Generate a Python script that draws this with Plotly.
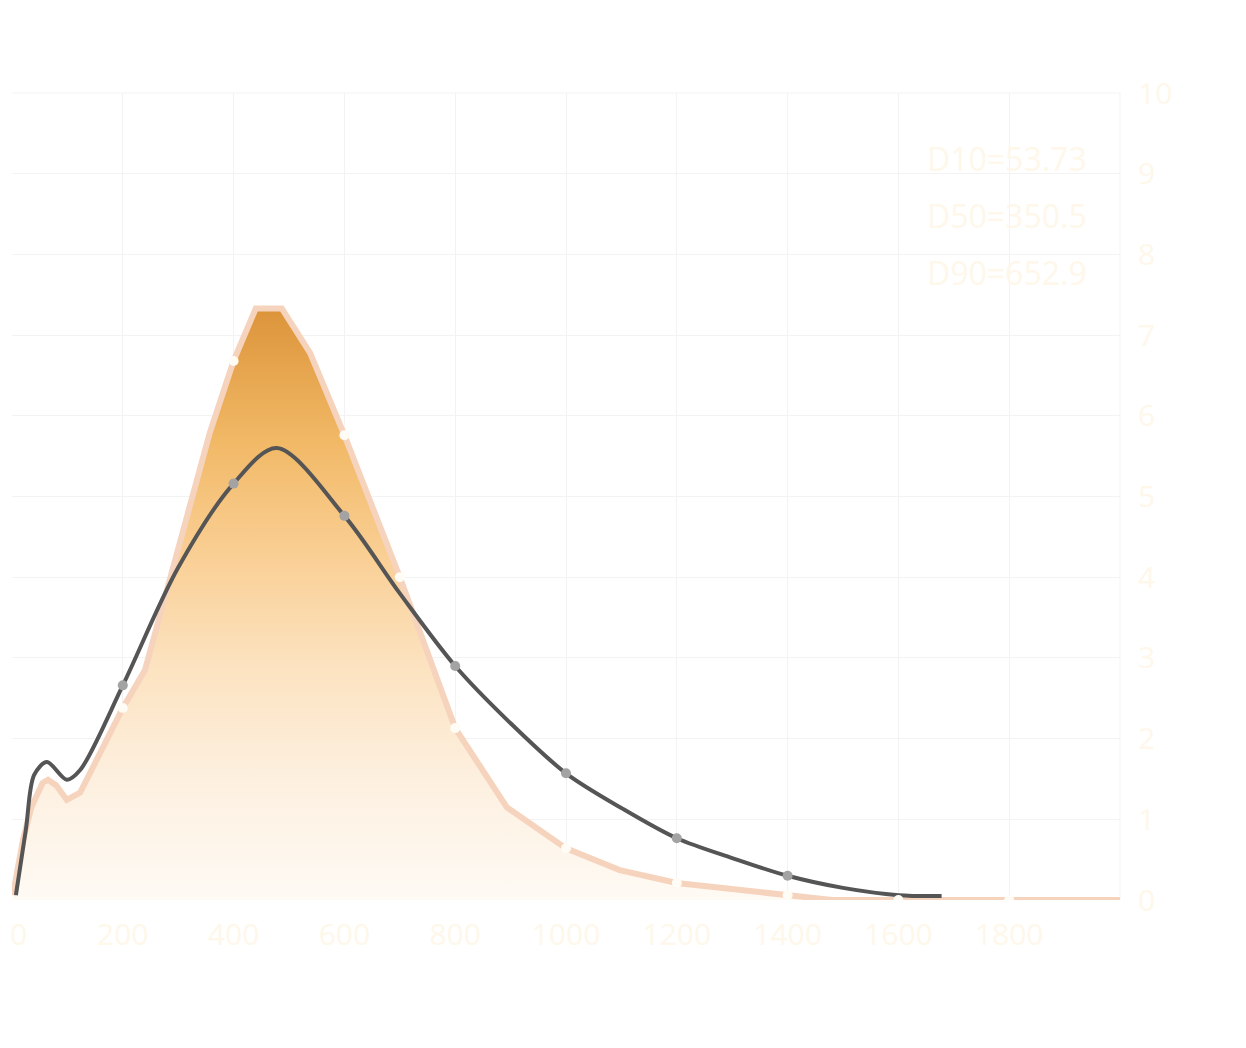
import plotly.graph_objects as go

# ---- data ----
size_x = [0, 20, 35, 45, 55, 65, 80, 99, 123, 200, 240, 288, 357, 400, 440, 487, 538,
          600, 700, 800, 893, 1000, 1097, 1200, 1400, 1480, 1600, 1800, 2000]
size_y = [0, 0.75, 1.15, 1.32, 1.45, 1.49, 1.42, 1.24, 1.33, 2.38, 2.85, 4.05, 5.79, 6.68,
          7.33, 7.33, 6.78, 5.76, 4.0, 2.13, 1.15, 0.64, 0.37, 0.21, 0.06, 0.0, 0.0, 0.0, 0.0]
size_marked = [0, 200, 400, 600, 700, 800, 1000, 1200, 1400, 1600, 1800]

curve_x = [7, 25, 40, 63, 99, 123, 200, 300, 400, 478, 600,
           700, 800, 900, 1000, 1100, 1200, 1300, 1400, 1500, 1600, 1678]
curve_y = [0.06, 0.87, 1.55, 1.71, 1.49, 1.61, 2.66, 4.12, 5.16, 5.6, 4.76,
           3.8, 2.9, 2.19, 1.57, 1.14, 0.765, 0.52, 0.30, 0.15, 0.06, 0.05]
curve_marked = [200, 400, 600, 800, 1000, 1200, 1400]

x_ticks = [0, 200, 400, 600, 800, 1000, 1200, 1400, 1600, 1800]
y_ticks = [0, 1, 2, 3, 4, 5, 6, 7, 8, 9, 10]
stats_labels = ["D10=53.73", "D50=350.5", "D90=652.9"]

PALE = "#fef7ea"
GRID = "#f3f3f3"
TICKFONT = dict(family="Open Sans", size=30, color=PALE)

fig = go.Figure()

fig.add_trace(go.Scatter(
    x=size_x, y=size_y, mode="lines",
    line=dict(color="#f6d3bd", width=6, shape="linear"),
    fill="tozeroy",
    fillgradient=dict(
        type="vertical", start=0, stop=max(size_y),
        colorscale=[[0.0, "#fefaf4"], [0.2, "#fdf0e0"], [0.4, "#fce2bf"],
                    [0.6, "#f9cd90"], [0.78, "#f1b865"], [1.0, "#dc943a"]],
    ),
    hoverinfo="skip", showlegend=False,
))

fig.add_trace(go.Scatter(
    x=curve_x, y=curve_y, mode="lines",
    line=dict(color="#555555", width=4, shape="spline", smoothing=0.9),
    hoverinfo="skip", showlegend=False,
))

cm = [(x, y) for x, y in zip(curve_x, curve_y) if x in curve_marked]
fig.add_trace(go.Scatter(
    x=[p[0] for p in cm], y=[p[1] for p in cm], mode="markers",
    marker=dict(color="#a3a3a3", size=10),
    hoverinfo="skip", showlegend=False,
))

sm = [(x, y) for x, y in zip(size_x, size_y) if x in size_marked]
fig.add_trace(go.Scatter(
    x=[p[0] for p in sm], y=[p[1] for p in sm], mode="markers",
    marker=dict(color="#fffbf5", size=10),
    hoverinfo="skip", showlegend=False,
))

for i, t in enumerate(stats_labels):
    fig.add_annotation(
        x=0.824, xref="paper", xanchor="left",
        y=1 - (65 + 57 * i) / 807, yref="paper", yanchor="middle",
        text=t, showarrow=False,
        font=dict(family="Open Sans", size=32, color=PALE),
    )

# first x tick label placed so it stays inside the page
fig.add_annotation(
    x=x_ticks[0], xref="x", xanchor="left", xshift=-4,
    y=0, yref="paper", yanchor="top", yshift=-11,
    text=str(x_ticks[0]), showarrow=False, font=TICKFONT,
)

fig.update_layout(
    width=1246, height=1048,
    margin=dict(l=4, r=134, t=85, b=156),
    paper_bgcolor="white", plot_bgcolor="white",
    font=dict(family="Open Sans", size=30, color=PALE),
    xaxis=dict(
        range=[0, 2000], tickmode="array", tickvals=x_ticks,
        ticktext=["" if v == x_ticks[0] else str(v) for v in x_ticks],
        showgrid=True, gridcolor=GRID, gridwidth=1,
        zeroline=False, showline=False, ticks="", automargin=False,
        ticklabelstandoff=14, ticklabeloverflow="allow",
        tickfont=TICKFONT,
    ),
    yaxis=dict(
        range=[0, 10], side="right", tickmode="array", tickvals=y_ticks,
        ticktext=[str(v) for v in y_ticks],
        showgrid=True, gridcolor=GRID, gridwidth=1,
        zeroline=False, showline=False, ticks="", automargin=False,
        ticklabelstandoff=17, ticklabeloverflow="allow",
        tickfont=TICKFONT,
    ),
    shapes=[
        dict(type="line", xref="paper", yref="paper", x0=1, x1=1, y0=0, y1=1,
             line=dict(color=GRID, width=1), layer="below"),
        dict(type="line", xref="paper", yref="paper", x0=0, x1=1, y0=1, y1=1,
             line=dict(color=GRID, width=1), layer="below"),
    ],
)

fig.write_html("out.html")
